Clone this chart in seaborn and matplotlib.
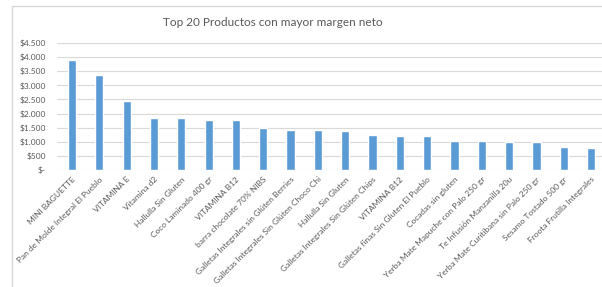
import pandas as pd
import numpy as np
from matplotlib import pyplot as plt
from matplotlib.patches import Rectangle
import seaborn as sns

productos = [
    "MINI BAGUETTE", "Pan de Molde Integral El Pueblo", "VITAMINA E", "Vitamina d2",
    "Hallulla Sin Gluten", "Coco Laminado 400 gr", "VITAMINA B12",
    "barra chocolate 70% NIBS", "Galletas Integrales sin Glúten Berries",
    "Galletas Integrales Sin Glúten Choco Chi", "Hallulla Sin Gluten",
    "Galletas Integrales Sin Glúten Chips", "VITAMINA B12",
    "Galletas finas Sin Gluten El Pueblo", "Cocadas sin gluten",
    "Yerba Mate Mapuche con Palo 250 gr", "Te Infusión Manzanilla 20u",
    "Yerba Mate Curitibana sin Palo 250 gr", "Sesamo Tostado 500 gr",
    "Froota Frutilla Integrales",
]
margen = [3905, 3350, 2445, 1860, 1840, 1780, 1765, 1490, 1420, 1405,
          1385, 1255, 1205, 1195, 1035, 1015, 1005, 1005, 825, 790]
yticks = [0, 500, 1000, 1500, 2000, 2500, 3000, 3500, 4000, 4500]

df = pd.DataFrame({"Producto": [f"{i}_{p}" for i, p in enumerate(productos)],
                   "Margen": margen})

sns.set_theme(style="white")
plt.rcParams['font.family'] = ['Lato', 'DejaVu Sans']
gris = "#595959"

fig = plt.figure(figsize=(6.02, 2.87), dpi=100)
fig.patches.append(Rectangle((12 / 602, -0.1), 1.0, (1 - 6 / 287) + 0.1,
                             transform=fig.transFigure, fill=False,
                             edgecolor="#d9d9d9", linewidth=1.0))
ax = fig.add_axes([57 / 602, 1 - 170 / 287, 1 - 57 / 602, 127 / 287])

sns.barplot(data=df, x="Producto", y="Margen", color="#5b9bd5", saturation=1,
            width=0.3, ax=ax)

ax.set_ylim(0, 4500)
ax.set_xlim(-0.55, 19.4)
ax.set_yticks(yticks)
ax.set_yticklabels(["$-"] + ["$" + f"{v:,}".replace(",", ".") for v in yticks[1:]],
                   fontsize=6, color=gris)
ax.set_xticks(range(len(productos)))
ax.set_xticklabels(productos, rotation=45, ha="right", rotation_mode="anchor",
                   fontsize=6, color=gris)
ax.tick_params(axis="y", length=0, pad=8)
ax.tick_params(axis="x", length=0, pad=4)
ax.grid(axis="y", color="#d9d9d9", linewidth=0.8)
ax.set_axisbelow(True)
for s in ax.spines.values():
    s.set_visible(False)
ax.set_xlabel("")
ax.set_ylabel("")

fig.text(273 / 602, 1 - 23 / 287, "Top 20 Productos con mayor margen neto",
         ha="center", va="center", fontsize=8.5, color=gris)

fig.savefig("out.png", dpi=100)
